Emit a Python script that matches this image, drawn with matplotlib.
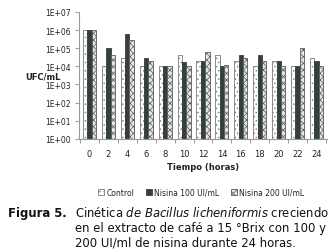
import numpy as np
import matplotlib
matplotlib.use("Agg")
import matplotlib.pyplot as plt
from matplotlib.ticker import FixedLocator

hours = [0, 2, 4, 6, 8, 10, 12, 14, 16, 18, 20, 22, 24]
control = [1e6, 1e4, 3e4, 1e4, 1e4, 4e4, 2e4, 4e4, 2e4, 1e4, 2e4, 1e4, 3e4]
nisina100 = [1e6, 1e5, 6e5, 3e4, 1e4, 1.7e4, 2e4, 1e4, 4e4, 4e4, 2e4, 1e4, 2e4]
nisina200 = [1e6, 4e4, 3e5, 2e4, 1e4, 1e4, 6e4, 1.2e4, 3e4, 2e4, 1e4, 1e5, 1e4]
ytick_labels = ["1E+00", "1E+01", "1E+02", "1E+03", "1E+04", "1E+05", "1E+06", "1E+07"]
series_names = ["Control", "Nisina 100 UI/mL", "Nisina 200 UI/mL"]

plt.rcParams['hatch.linewidth'] = 0.5
plt.rcParams['hatch.color'] = "#a8a8a8"
fig = plt.figure(figsize=(3.35, 2.53), dpi=100)
ax = fig.add_axes([0.236, 0.447, 0.740, 0.502])

x = np.arange(len(hours))
w = 0.23
b1 = ax.bar(x - w, control, w, bottom=1, color="white", edgecolor="#7a7a7a",
            hatch="....", linewidth=0.6, label=series_names[0])
b2 = ax.bar(x, nisina100, w, bottom=1, color="#34403f", edgecolor="#34403f",
            linewidth=0.6, label=series_names[1])
b3 = ax.bar(x + w, nisina200, w, bottom=1, color="#e6e6e6", edgecolor="#5a5a5a",
            hatch="xxxxx", linewidth=0.6, label=series_names[2])

ax.set_yscale("log")
ax.set_ylim(1, 1e7)
ax.set_xlim(-0.55, len(hours) - 0.45)
ax.yaxis.set_major_locator(FixedLocator([10.0 ** i for i in range(8)]))
ax.yaxis.set_minor_locator(FixedLocator([]))
ax.set_yticklabels(ytick_labels)
ax.set_xticks(x)
ax.set_xticklabels([str(h) for h in hours])
ax.set_xticks(np.arange(-0.5, len(hours), 1), minor=True)
ax.tick_params(axis="x", which="major", length=0, labelsize=6, pad=7, colors="#222222")
ax.tick_params(axis="x", which="minor", length=3, color="#999999", width=0.7)
ax.tick_params(axis="y", which="major", length=3, color="#999999", width=0.7,
               labelsize=5.5, pad=3, labelcolor="#222222")
for s in ["top", "right"]:
    ax.spines[s].set_visible(False)
for s in ["left", "bottom"]:
    ax.spines[s].set_color("#999999")
    ax.spines[s].set_linewidth(0.8)

ax.set_xlabel("Tiempo (horas)", fontsize=6, fontweight="bold", labelpad=3, color="#222222")
fig.text(0.075, 0.695, "UFC/mL", fontsize=6, fontweight="bold", va="center", ha="left", color="#222222")

leg = fig.legend(handles=[b1, b2, b3], loc="center", bbox_to_anchor=(0.6, 0.237), ncol=3,
                 frameon=False, fontsize=5.5, handlelength=0.8, handleheight=0.8,
                 handletextpad=0.3, columnspacing=1.5, labelcolor="#222222")

fs = 8.4
fig.text(0.024, 0.158, "Figura 5.", fontsize=fs, fontweight="bold", va="center", color="#111111")
fig.text(0.224, 0.158, "Cinética $\\it{de\\ Bacillus\\ licheniformis}$ creciendo",
         fontsize=fs, va="center", color="#111111")
fig.text(0.224, 0.098, "en el extracto de café a 15 °Brix con 100 y", fontsize=fs, va="center", color="#111111")
fig.text(0.224, 0.038, "200 UI/ml de nisina durante 24 horas.", fontsize=fs, va="center", color="#111111")

fig.savefig("out.png", dpi=100)
